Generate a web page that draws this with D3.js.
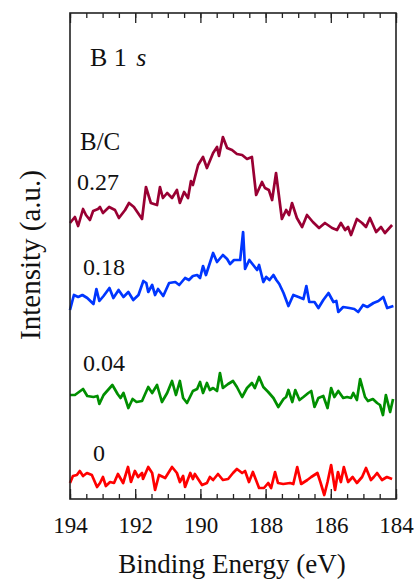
<!DOCTYPE html>
<html>
<head>
<meta charset="utf-8">
<script src="https://cdn.jsdelivr.net/npm/d3@7"></script>
<style>
  body { margin: 0; background: #fff; }
  svg text { font-family: "Liberation Serif", "DejaVu Serif", serif; fill: #111; }
</style>
</head>
<body>
<script>

// binding energy (eV) and intensity (a.u., stacked) for each B/C ratio
var e027 = [194.00,193.85,193.75,193.60,193.51,193.39,193.29,193.14,193.08,192.99,192.80,192.62,192.50,192.31,192.19,192.04,191.79,191.67,191.52,191.33,191.24,191.15,191.02,190.87,190.72,190.63,190.50,190.38,190.29,190.23,190.07,189.92,189.80,189.61,189.49,189.43,189.31,189.18,189.03,188.88,188.72,188.57,188.42,188.29,188.11,188.02,187.90,187.80,187.68,187.50,187.37,187.28,187.19,187.04,186.88,186.73,186.55,186.36,186.18,185.96,185.81,185.69,185.56,185.47,185.38,185.20,185.04,184.92,184.80,184.61,184.46,184.34,184.12];
var i027 = [276,282,273,290,284,279,288,290,292,286,292,289,281,289,296,292,280,312,296,294,312,301,306,301,309,296,307,301,318,314,334,342,331,346,352,343,362,351,349,345,344,340,342,304,317,311,309,299,326,280,289,284,296,281,272,284,277,271,276,271,269,276,269,272,264,280,276,272,281,267,272,266,274];

var e018 = [194.00,193.88,193.75,193.62,193.47,193.28,193.19,193.10,192.97,192.79,192.67,192.51,192.36,192.21,192.06,191.90,191.75,191.66,191.60,191.48,191.39,191.30,191.14,190.96,190.77,190.65,190.47,190.35,190.23,190.10,190.01,189.92,189.83,189.61,189.49,189.31,189.18,189.09,188.97,188.78,188.69,188.63,188.50,188.38,188.26,188.20,188.07,187.98,187.88,187.76,187.67,187.58,187.45,187.30,187.15,186.99,186.84,186.75,186.66,186.50,186.38,186.23,186.07,185.92,185.83,185.77,185.62,185.43,185.28,185.16,185.01,184.88,184.69,184.54,184.39,184.27,184.08];
var i018 = [189,204,202,204,201,195,210,198,203,211,201,209,202,207,199,204,218,216,207,214,204,210,203,216,217,214,221,219,223,224,221,233,224,246,237,244,240,235,239,239,267,230,239,234,229,234,217,222,219,224,219,215,206,193,204,202,200,213,197,197,191,199,206,197,198,187,192,191,190,187,194,192,196,198,202,191,193];

var e004 = [194.00,193.85,193.60,193.47,193.28,193.16,193.10,192.97,192.70,192.54,192.45,192.36,192.21,192.08,191.96,191.79,191.60,191.48,191.33,191.18,191.02,190.87,190.75,190.63,190.53,190.41,190.23,190.10,190.01,189.92,189.80,189.71,189.61,189.49,189.40,189.31,189.15,189.00,188.88,188.72,188.57,188.42,188.33,188.20,188.07,187.92,187.76,187.61,187.45,187.37,187.30,187.18,187.09,186.96,186.84,186.69,186.60,186.50,186.38,186.23,186.10,185.99,185.89,185.77,185.62,185.50,185.38,185.31,185.20,185.10,184.95,184.86,184.71,184.58,184.49,184.40,184.31,184.18,184.09];
var i004 = [104,104,110,103,102,103,95,104,114,105,101,106,91,100,97,98,112,106,114,97,106,118,104,118,101,96,108,110,117,106,116,109,111,108,126,111,115,118,112,102,111,116,111,122,112,107,101,92,100,102,109,97,109,99,102,106,108,92,101,103,91,111,102,108,101,102,101,106,99,120,102,98,100,96,94,84,104,87,100];

var e000 = [194.00,193.91,193.79,193.70,193.60,193.48,193.33,193.17,193.08,192.99,192.90,192.77,192.65,192.53,192.37,192.22,192.13,192.01,191.91,191.79,191.76,191.60,191.48,191.39,191.27,191.08,190.87,190.72,190.63,190.53,190.47,190.31,190.23,190.17,190.07,189.95,189.80,189.71,189.61,189.46,189.31,189.15,189.00,188.88,188.72,188.63,188.51,188.39,188.20,188.05,187.92,187.83,187.71,187.62,187.46,187.25,187.15,187.03,186.91,186.72,186.60,186.41,186.32,186.20,186.10,185.99,185.87,185.78,185.69,185.60,185.47,185.33,185.20,185.04,184.92,184.77,184.68,184.58,184.43,184.28,184.12];
var i000 = [16,23,24,28,23,26,24,12,16,22,13,17,16,25,16,32,17,28,22,26,20,32,26,9,24,21,32,26,17,23,12,26,20,25,20,14,16,22,19,25,19,20,26,30,26,28,17,27,11,11,16,11,27,16,15,16,15,32,15,19,22,26,17,4,17,34,9,27,17,32,17,22,16,22,31,19,22,26,19,22,20,6];

var series = [
  { label: "0.27", color: "#990033", e: e027, v: i027 },
  { label: "0.18", color: "#0036ff", e: e018, v: i018 },
  { label: "0.04", color: "#008f00", e: e004, v: i004 },
  { label: "0",    color: "#ff0000", e: e000, v: i000 }
];

var majorTicks = [194, 192, 190, 188, 186, 184];
var minorTicks = d3.range(194, 183.9, -0.5);

var W = 414, H = 581;
var plotL = 70, plotR = 396, plotT = 13, plotB = 499;

var x = d3.scaleLinear().domain([194, 184]).range([plotL, plotR]);
var y = d3.scaleLinear().domain([0, 486]).range([plotB, plotT]);

var svg = d3.select("body").append("svg")
    .attr("width", W)
    .attr("height", H);

var line = d3.line()
    .x(function(d){ return x(d[0]); })
    .y(function(d){ return y(d[1]); });

series.forEach(function(s){
  svg.append("path")
    .datum(s.e.map(function(e, i){ return [e, s.v[i]]; }))
    .attr("d", line)
    .attr("fill", "none")
    .attr("stroke", s.color)
    .attr("stroke-width", 2.7)
    .attr("stroke-linejoin", "round");
});

// ticks, pointing inward on top and bottom
svg.append("g")
    .attr("transform", "translate(0," + plotB + ")")
    .call(d3.axisBottom(x).tickValues(minorTicks).tickSize(-5).tickFormat(""));
svg.append("g")
    .attr("transform", "translate(0," + plotB + ")")
    .call(d3.axisBottom(x).tickValues(majorTicks).tickSize(-10).tickPadding(18).tickFormat(d3.format("d")))
    .selectAll("text").style("font-size", "23px");
svg.append("g")
    .attr("transform", "translate(0," + plotT + ")")
    .call(d3.axisTop(x).tickValues(minorTicks).tickSize(-5).tickFormat(""));
svg.append("g")
    .attr("transform", "translate(0," + plotT + ")")
    .call(d3.axisTop(x).tickValues(majorTicks).tickSize(-10).tickFormat(""));

svg.selectAll(".domain").remove();
svg.selectAll(".tick line").attr("stroke", "#222").attr("stroke-width", 1.3);
svg.selectAll(".tick text").attr("fill", "#111");

svg.append("rect")
    .attr("x", plotL).attr("y", plotT)
    .attr("width", plotR - plotL).attr("height", plotB - plotT)
    .attr("fill", "none")
    .attr("stroke", "#222")
    .attr("stroke-width", 1.6);

// annotations
var t = svg.append("text").attr("x", 90).attr("y", 66).style("font-size", "26px");
t.append("tspan").text("B 1 ");
t.append("tspan").style("font-style", "italic").attr("dx", 3).text("s");

svg.append("text").attr("x", 80).attr("y", 150).style("font-size", "25px").text("B/C");

var labelPos = [[77, 190], [83, 275], [83, 371], [93, 461]];
series.forEach(function(s, i){
  svg.append("text")
    .attr("x", labelPos[i][0]).attr("y", labelPos[i][1])
    .style("font-size", "24px")
    .text(s.label);
});

svg.append("text")
    .attr("x", (plotL + plotR) / 2 - 1).attr("y", 573)
    .attr("text-anchor", "middle")
    .style("font-size", "27px")
    .text("Binding Energy (eV)");

svg.append("text")
    .attr("transform", "translate(40," + 255 + ") rotate(-90)")
    .attr("text-anchor", "middle")
    .style("font-size", "29px")
    .text("Intensity (a.u.)");

</script>
</body>
</html>
